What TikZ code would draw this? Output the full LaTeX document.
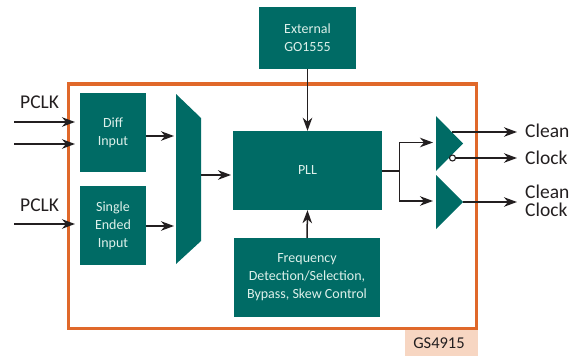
\documentclass[tikz,border=0pt]{standalone}
\usepackage{fontspec}
\setmainfont{Carlito}
\usetikzlibrary{arrows.meta,positioning,calc}
\definecolor{tealbox}{HTML}{006B65}
\definecolor{orangeline}{HTML}{E0682A}
\definecolor{peachbox}{HTML}{F7D6C2}
\definecolor{inktext}{HTML}{231F20}
\definecolor{boxtext}{HTML}{DDF0EA}
\begin{document}
\begin{tikzpicture}
[x=1pt,y=-1pt,
block/.style={shape=rectangle,fill=tealbox,text=boxtext,inner sep=0pt,align=center,
  font=\fontsize{14}{18}\selectfont},
pinlabel/.style={text=inktext,inner sep=0pt,anchor=west,font=\fontsize{19.5}{18}\selectfont},
myarrow/.style={-{Stealth[length=13pt,width=9.5pt,inset=4pt]},draw=inktext,line width=1.5pt},
myline/.style={draw=inktext,line width=1.5pt}]
\useasboundingbox (0,0) rectangle (576,356);
%%
\fill[peachbox] (405,330) rectangle (478,356);
\node (tag) [text=inktext,inner sep=0pt,font=\fontsize{16.5}{16}\selectfont] at (439,343) {GS4915};
\draw[orangeline,line width=3.6pt] (68.5,84) rectangle (476.5,328.5);
%%
\node (ext) [block,minimum width=97pt,minimum height=62pt] at (307.5,38) {External\\GO1555};
\node (pll) [block,minimum width=149pt,minimum height=79pt] at (307.5,170.5) {PLL};
\node (freq) [block,minimum width=146pt,minimum height=79pt] at (307,277.5)
  {Frequency\\Detection/Selection,\\Bypass, Skew Control};
\node (diff) [block,minimum width=66pt,minimum height=79pt] at (113,132.5) {Diff\\Input};
\node (single) [block,minimum width=66pt,minimum height=79pt] at (113,225.5) {Single\\Ended\\Input};
%% mux and drivers
\fill[tealbox] (176,94) -- (201,118) -- (201,241) -- (176,264) -- cycle;
\fill[tealbox] (436,116) -- (463,143.5) -- (436,171) -- cycle;
\fill[tealbox] (436,175) -- (463,202) -- (436,229) -- cycle;
%%
\coordinate (p1) at (14,122);
\coordinate (p1e) at (75,122);
\coordinate (p2) at (14,144);
\coordinate (p2e) at (75,144);
\coordinate (p3) at (14,224);
\coordinate (p3e) at (75,224);
\coordinate (d1) at (146,136);
\coordinate (m1) at (174,136);
\coordinate (d2) at (146,226);
\coordinate (m2) at (174,226);
\coordinate (m3) at (201,175);
\coordinate (l1) at (231,175);
\coordinate (o1) at (382,171);
\coordinate (j1) at (399.5,171);
\coordinate (t1) at (433,142.5);
\coordinate (t2) at (433,201);
\coordinate (q1) at (452,132);
\coordinate (q1e) at (517,132);
\coordinate (q2) at (455,158);
\coordinate (q2e) at (517,158);
\coordinate (q3) at (463,202);
\coordinate (q3e) at (517,202);
\draw[myarrow] (p1) -- (p1e);
\draw[myarrow] (p2) -- (p2e);
\draw[myarrow] (p3) -- (p3e);
\draw[myarrow] (d1) -- (m1);
\draw[myarrow] (d2) -- (m2);
\draw[myarrow] (m3) -- (l1);
\draw[myarrow] (ext.south) -- (pll.north);
\draw[myarrow] (freq.north) -- (pll.south);
\draw[myline] (o1) -- (j1);
\draw[myarrow] (j1) |- (t1);
\draw[myarrow] (j1) |- (t2);
\draw[myarrow] (q1) -- (q1e);
\draw[myarrow] (q2) -- (q2e);
\draw[myarrow] (q3) -- (q3e);
\node (bub) [shape=circle,draw=inktext,fill=white,line width=1.1pt,inner sep=0pt,minimum size=6pt] at (452.5,158) {};
%%
\node (pclka) [pinlabel] at (20,102) {PCLK};
\node (pclkb) [pinlabel] at (20,205) {PCLK};
\node (cleana) [pinlabel] at (525,131) {Clean};
\node (clocka) [pinlabel] at (525,158) {Clock};
\node (cleanb) [pinlabel] at (525,192) {Clean};
\node (clockb) [pinlabel] at (525,210) {Clock};
\end{tikzpicture}
\end{document}
